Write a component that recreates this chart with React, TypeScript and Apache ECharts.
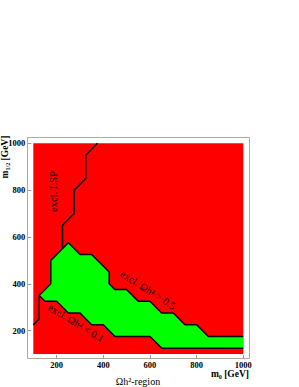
import React, { useEffect, useRef } from "react";
import * as echarts from "echarts";

// Axis ranges and ticks
const xRange = [100, 1000];
const yRange = [100, 1000];
const xTicks = [200, 400, 600, 800, 1000];
const yTicks = [200, 400, 600, 800, 1000];

// Excluded (red) region: whole plane
const redRegion: number[][] = [
  [100, 100], [1000, 100], [1000, 1000], [100, 1000],
];

// Allowed (green) region boundary: open polyline, closed along x = 1000
const greenBoundary: number[][] = [
  [1000, 175], [850, 175], [800, 225], [750, 225], [700, 275], [650, 275],
  [600, 325], [550, 325], [500, 375], [450, 375], [425, 400], [425, 450],
  [350, 525], [300, 525], [250, 575], [175, 500], [175, 400], [125, 350],
  [150, 325], [200, 325], [250, 275], [300, 275], [350, 225], [400, 225],
  [450, 175], [600, 175], [650, 125], [1000, 125],
];

// LSP exclusion boundary
const lspLine: number[][] = [
  [225, 550], [225, 650], [275, 700], [275, 800], [325, 850], [325, 950], [375, 1000],
];

// Lower-left boundary line
const lowLine: number[][] = [
  [100, 225], [125, 250], [125, 350],
];

const SERIF = "'Liberation Serif', 'Times New Roman', serif";

export default function App() {
  const ref = useRef<HTMLDivElement>(null);
  useEffect(() => {
    document.body.style.margin = "0";
    if (!ref.current) return;
    const chart = echarts.init(ref.current, null, { renderer: "svg" });
    const polySeries = (pts: number[][], fill: string) => ({
      type: "custom",
      coordinateSystem: "cartesian2d",
      data: [[pts[0][0], pts[0][1]]],
      silent: true,
      renderItem: (_p: any, api: any) => ({
        type: "polygon",
        shape: { points: pts.map((p) => api.coord(p)) },
        style: { fill, stroke: "none" },
      }),
    });
    const lineSeries = (pts: number[][]) => ({
      type: "line",
      data: pts,
      symbol: "none",
      silent: true,
      lineStyle: { color: "#000", width: 1.5 },
    });
    const labelStyle = {
      margin: 1,
      fontFamily: SERIF,
      fontWeight: "bold",
      fontSize: 8.5,
      color: "#000",
      formatter: (v: number) => String(v),
    };
    chart.setOption({
      animation: false,
      grid: { left: 33.3, top: 143.3, width: 210, height: 210.7 },
      xAxis: {
        type: "value",
        min: xRange[0],
        max: xRange[1],
        offset: 5,
        axisLine: { show: false },
        axisTick: {
          show: true,
          inside: true,
          length: 4,
          customValues: xTicks,
          lineStyle: { color: "#999" },
        },
        axisLabel: { ...labelStyle, customValues: xTicks },
        splitLine: { show: false },
      },
      yAxis: {
        type: "value",
        min: yRange[0],
        max: yRange[1],
        offset: 6,
        axisLine: { show: false },
        axisTick: {
          show: true,
          inside: true,
          length: 4,
          customValues: yTicks,
          lineStyle: { color: "#999" },
        },
        axisLabel: { ...labelStyle, margin: 2, customValues: yTicks },
        splitLine: { show: false },
      },
      graphic: [
        {
          type: "rect",
          shape: { x: 27.5, y: 137.5, width: 222, height: 221 },
          style: { fill: "none", stroke: "#aaa", lineWidth: 1 },
          z: 10,
        },
        {
          type: "text",
          x: 53,
          y: 191.5,
          rotation: Math.PI / 2,
          style: {
            text: "excl. LSP",
            font: `10.5px ${SERIF}`,
            fill: "#000",
            align: "center",
            verticalAlign: "middle",
          },
          z: 20,
        },
        {
          type: "text",
          x: 148,
          y: 290,
          rotation: -0.57,
          style: {
            text: "excl. Ωh² > 0.5",
            font: `10.5px ${SERIF}`,
            fill: "#000",
            align: "center",
            verticalAlign: "middle",
          },
          z: 20,
        },
        {
          type: "text",
          x: 76,
          y: 323,
          rotation: -0.55,
          style: {
            text: "excl. Ωh² < 0.1",
            font: `10.5px ${SERIF}`,
            fill: "#000",
            align: "center",
            verticalAlign: "middle",
          },
          z: 20,
        },
        {
          type: "text",
          x: 5,
          y: 157,
          rotation: Math.PI / 2,
          style: {
            text: "{a|m}{b|1/2}{a| [GeV]}",
            rich: {
              a: { fontFamily: SERIF, fontWeight: "bold", fontSize: 9.5, fill: "#000" },
              b: { fontFamily: SERIF, fontWeight: "bold", fontSize: 6, fill: "#000", padding: [6, 0, 0, 0] },
            },
            align: "center",
            verticalAlign: "middle",
          },
          z: 20,
        },
        {
          type: "text",
          x: 249,
          y: 373.5,
          style: {
            text: "{a|m}{b|0}{a| [GeV]}",
            rich: {
              a: { fontFamily: SERIF, fontWeight: "bold", fontSize: 9.5, fill: "#000" },
              b: { fontFamily: SERIF, fontWeight: "bold", fontSize: 6, fill: "#000", padding: [6, 0, 0, 0] },
            },
            align: "right",
            verticalAlign: "middle",
          },
          z: 20,
        },
        {
          type: "text",
          x: 138,
          y: 381,
          style: {
            text: "Ωh²-region",
            font: `10px ${SERIF}`,
            fill: "#000",
            align: "center",
            verticalAlign: "middle",
          },
          z: 20,
        },
      ],
      series: [
        polySeries(redRegion, "#ff0000"),
        polySeries(greenBoundary, "#00ff00"),
        lineSeries(greenBoundary),
        lineSeries(lspLine),
        lineSeries(lowLine),
      ],
    });
    return () => chart.dispose();
  }, []);
  return <div ref={ref} style={{ width: 299, height: 387 }} />;
}
